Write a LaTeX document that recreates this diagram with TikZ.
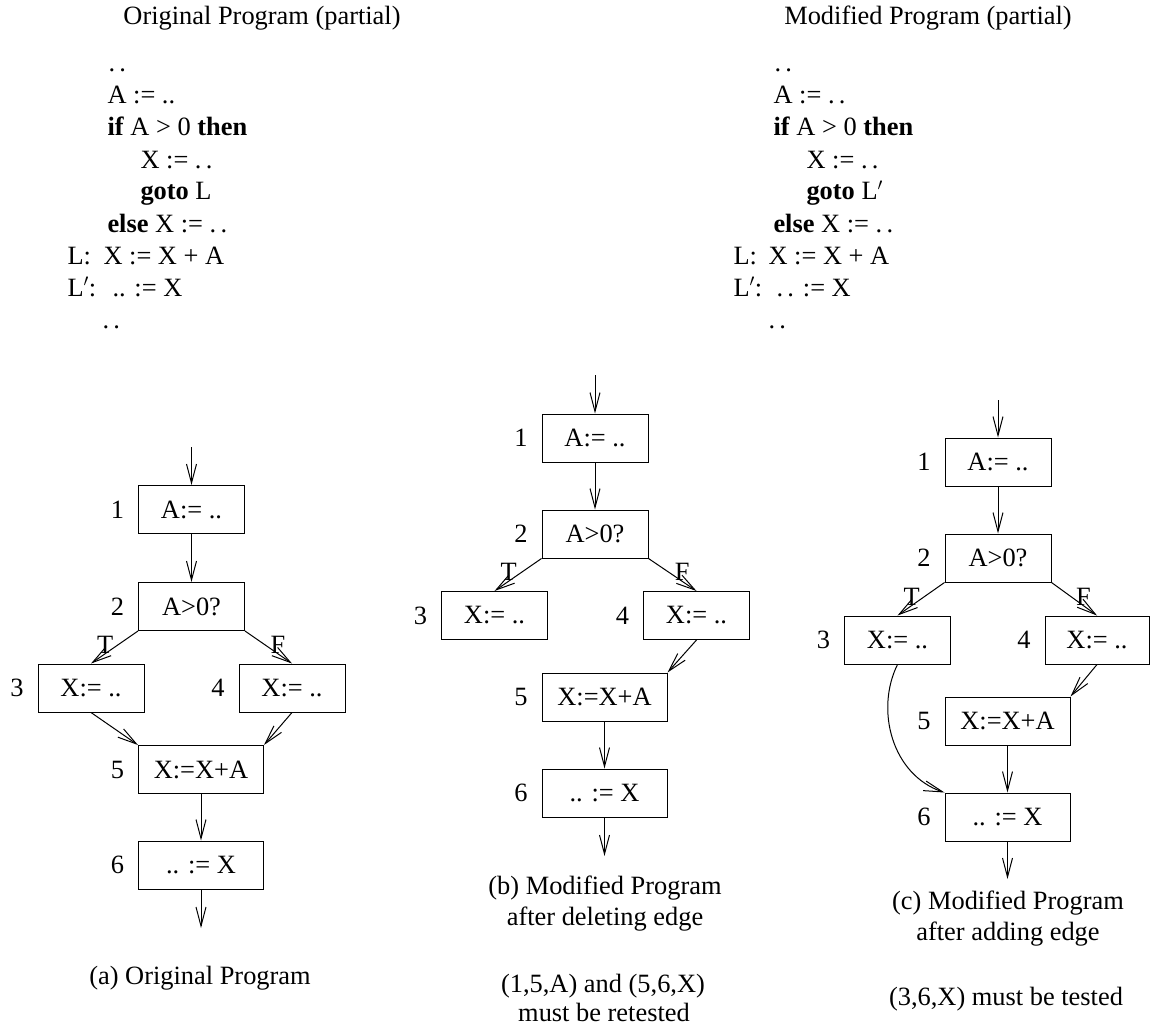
\documentclass[tikz,border=0pt]{standalone}
\usepackage{fontspec}
\setmainfont{Liberation Serif}
\usetikzlibrary{arrows.meta}
\begin{document}
\begin{tikzpicture}[x=1pt,y=-1pt,
  every node/.append style={font=\fontsize{26.4}{31.7}\selectfont},
  line width=1pt,
  arr/.style={-{Straight Barb[length=19pt,width=10pt]}},
  blk/.style={draw, line width=1pt, minimum width=106pt, minimum height=48pt, inner sep=0pt},
  wide/.style={blk, minimum width=125pt},
  codeline/.style={anchor=base west, inner sep=0pt},
  captxt/.style={anchor=base, inner sep=0pt},
  tf/.style={above, inner sep=0pt, pos=0.7},
  num/.style={label={[inner sep=0pt, label distance=13.5pt]left:#1}}
]
\fill[white] (0,0) rectangle (1150,1027);
\useasboundingbox (0,0) rectangle (1150,1027);

% ---------- program texts ----------
\node[captxt] (ttlA) at (262,25) {Original Program (partial)};
\node[captxt] (ttlB) at (928,25) {Modified Program (partial)};

\node[codeline] (oa0) at (108,72)  {.\,.};
\node[codeline] (oa1) at (107,104) {A := ..};
\node[codeline] (oa2) at (107,136) {\textbf{if} A > 0 \textbf{then}};
\node[codeline] (oa3) at (140,168) {X := .\,.};
\node[codeline] (oa4) at (140,200) {\textbf{goto} L};
\node[codeline] (oa5) at (107,232) {\textbf{else} X := .\,.};
\node[codeline] (oa6) at (67,264)  {L:};
\node[codeline] (oa6b) at (103,264) {X := X + A};
\node[codeline] (oa7) at (67,296)  {L$'$:};
\node[codeline] (oa7b) at (112,296) {.. := X};
\node[codeline] (oa8) at (102,328) {.\,.};

\node[codeline] (mc0) at (774,72)  {.\,.};
\node[codeline] (mc1) at (773,104) {A := .\,.};
\node[codeline] (mc2) at (773,136) {\textbf{if} A > 0 \textbf{then}};
\node[codeline] (mc3) at (806,168) {X := .\,.};
\node[codeline] (mc4) at (806,200) {\textbf{goto} L$'$};
\node[codeline] (mc5) at (773,232) {\textbf{else} X := .\,.};
\node[codeline] (mc6) at (733,264)  {L:};
\node[codeline] (mc6b) at (768,264) {X := X + A};
\node[codeline] (mc7) at (733,296)  {L$'$:};
\node[codeline] (mc7b) at (776,296) {.\,. := X};
\node[codeline] (mc8) at (768,328) {.\,.};

% ---------- (a) original flow graph ----------
\node[blk, num=1]  (a1) at (191.5,509.5) {A:= ..};
\node[blk, num=2]  (a2) at (191.5,606.5) {A>0?};
\node[blk, num=3]  (a3) at (91,688)      {X:= ..};
\node[blk, num=4]  (a4) at (292,688)     {X:= ..};
\node[wide, num=5] (a5) at (201,769.5)   {X:=X+A};
\node[wide, num=6] (a6) at (201,865)     {.. := X};
\coordinate (ain) at (191.5,447);
\coordinate (aout) at (201,928);
\draw[arr] (ain) -- (a1.north);
\draw[arr] (a1) -- (a2);
\draw[arr] (a2.south west) -- node[tf] {T} (a3.north);
\draw[arr] (a2.south east) -- node[tf] {F} (a4.north);
\draw[arr] (a3.south) -- (a5.north west);
\draw[arr] (a4.south) -- (a5.north east);
\draw[arr] (a5) -- (a6);
\draw[arr] (a6.south) -- (aout);
\node[captxt] (capA) at (200,984) {(a) Original Program};

% ---------- (b) after deleting an edge ----------
\node[blk, num=1]  (b1) at (595,438)     {A:= ..};
\node[blk, num=2]  (b2) at (595,534)     {A>0?};
\node[blk, num=3]  (b3) at (494.5,615.5) {X:= ..};
\node[blk, num=4]  (b4) at (696.5,615.5) {X:= ..};
\node[wide, num=5] (b5) at (604.5,697)   {X:=X+A};
\node[wide, num=6] (b6) at (604.5,793)   {.. := X};
\coordinate (bin) at (595,375);
\coordinate (bout) at (604.5,856);
\draw[arr] (bin) -- (b1.north);
\draw[arr] (b1) -- (b2);
\draw[arr] (b2.south west) -- node[tf] {T} (b3.north);
\draw[arr] (b2.south east) -- node[tf] {F} (b4.north);
\draw[arr] (b4.south) -- (b5.north east);
\draw[arr] (b5) -- (b6);
\draw[arr] (b6.south) -- (bout);
\node[captxt] (capB1) at (605,894) {(b) Modified Program};
\node[captxt] (capB2) at (605,925) {after deleting edge};
\node[captxt] (capB3) at (603,992) {(1,5,A) and (5,6,X)};
\node[captxt] (capB4) at (604,1021) {must be retested};

% ---------- (c) after adding an edge ----------
\node[blk, num=1]  (c1) at (998,462)    {A:= ..};
\node[blk, num=2]  (c2) at (998,558)    {A>0?};
\node[blk, num=3]  (c3) at (897.5,640)  {X:= ..};
\node[blk, num=4, minimum width=104pt] (c4) at (1097,640) {X:= ..};
\node[wide, num=5] (c5) at (1007.5,721) {X:=X+A};
\node[wide, num=6] (c6) at (1007.5,817) {.. := X};
\coordinate (cin) at (998,400);
\coordinate (cout) at (1007.5,879);
\draw[arr] (cin) -- (c1.north);
\draw[arr] (c1) -- (c2);
\draw[arr] (c2.south west) -- node[tf] {T} (c3.north);
\draw[arr] (c2.south east) -- node[tf] {F} (c4.north);
\draw[arr] (c4.south) -- (c5.north east);
\draw[arr] (c3.south) .. controls (875,710) and (892,775) .. (c6.north west);
\draw[arr] (c5) -- (c6);
\draw[arr] (c6.south) -- (cout);
\node[captxt] (capC1) at (1008,909) {(c) Modified Program};
\node[captxt] (capC2) at (1008,940) {after adding edge};
\node[captxt] (capC3) at (1006,1005) {(3,6,X) must be tested};
\end{tikzpicture}
\end{document}
